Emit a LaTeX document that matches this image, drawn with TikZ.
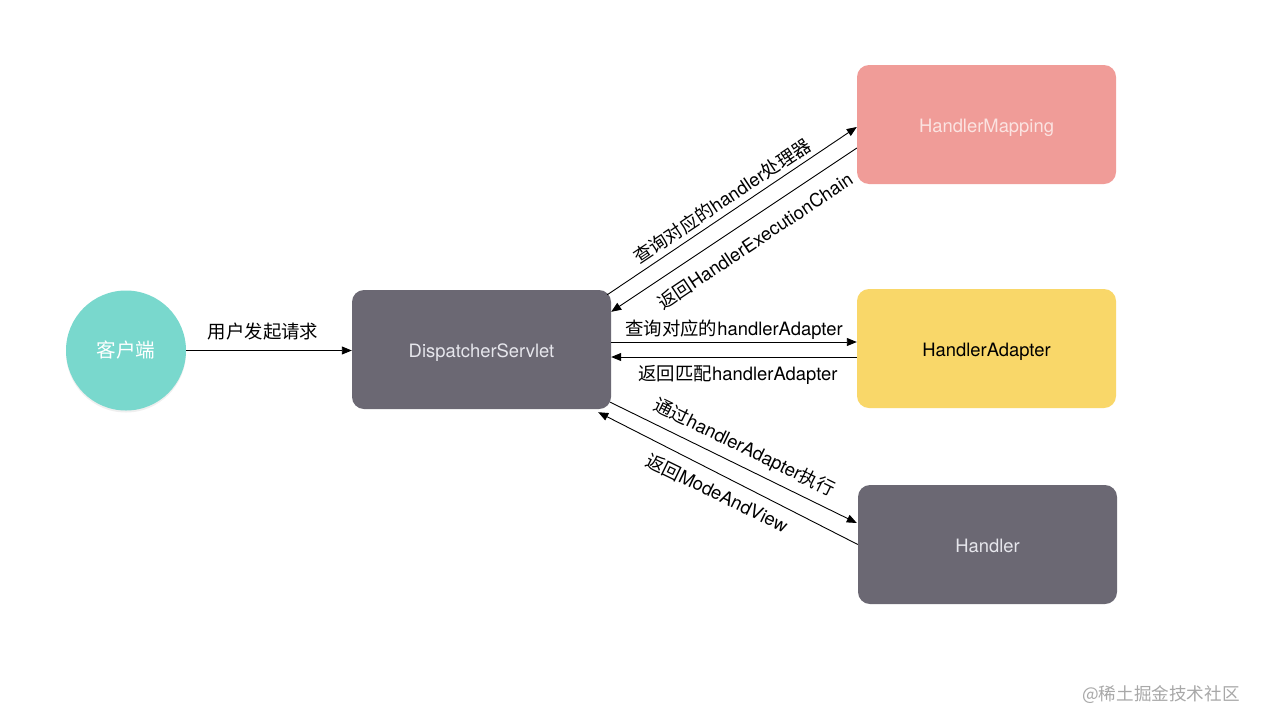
\documentclass[tikz,border=0pt]{standalone}
\usepackage{fontspec}
\setmainfont{TeX Gyre Heros}
\newfontfamily\cjk{Noto Sans CJK SC}
\usetikzlibrary{arrows.meta,calc,shadows}
\definecolor{clientc}{HTML}{79D8CD}
\definecolor{darkc}{HTML}{6B6873}
\definecolor{pinkc}{HTML}{F09C98}
\definecolor{yellowc}{HTML}{F9D769}
\definecolor{dstext}{HTML}{E6E6EC}
\definecolor{hmtext}{HTML}{FBE3E1}
\definecolor{wmtext}{HTML}{A8A8A8}
\begin{document}
\begin{tikzpicture}[x=1pt,y=-1pt,
  font=\fontsize{18.4}{21}\selectfont,
  box/.style={rectangle, rounded corners=12pt, minimum width=259pt, minimum height=119pt, inner sep=0pt, text height=16pt, text depth=0pt},
  conn/.style={-{Triangle[length=10pt,width=8pt]}, line width=0.9pt, black},
  lbl/.style={inner sep=0pt, text=black}]
\useasboundingbox[fill=white] (0,0) rectangle (1263,726);
\node[circle, fill=clientc, minimum size=120pt, inner sep=0pt, text=white,
  font=\fontsize{19.6}{22}\selectfont,
  drop shadow={opacity=0.12, shadow xshift=0pt, shadow yshift=-2pt}] (client) at (126,350.5) {\cjk 客户端};
\node[box, fill=darkc, text=dstext] (ds) at (481.5,349.5) {DispatcherServlet};
\node[box, fill=pinkc, text=hmtext] (hm) at (986.5,124.5) {HandlerMapping};
\node[box, fill=yellowc, text=black] (ha) at (986.5,348.5) {HandlerAdapter};
\node[box, fill=darkc, text=dstext] (h) at (987.5,544.5) {Handler};

\draw[conn] (client.east) -- (client.east -| ds.west);
\node[lbl] (l0) at (263,332) {\cjk 用户发起请求};

\draw[conn] ($(ds.north east)+(-4,5)$) -- ($(hm.west)+(0,2.5)$);
\draw[conn] ($(hm.west)+(0,23.5)$) -- ($(ds.north east)+(0,22)$);
\node[lbl, rotate=33.7] (l1) at (722,201) {{\cjk 查询对应的}handler{\cjk 处理器}};
\node[lbl, rotate=33.7] (l2) at (755,241) {{\cjk 返回}HandlerExecutionChain};

\draw[conn] ($(ds.east)+(0,-7.5)$) -- ($(ha.west)+(0,-6.5)$);
\draw[conn] ($(ha.west)+(0,8.5)$) -- ($(ds.east)+(0,7.5)$);
\node[lbl] (l3) at (734,330) {{\cjk 查询对应的}handlerAdapter};
\node[lbl] (l4) at (738,375) {{\cjk 返回匹配}handlerAdapter};

\draw[conn] ($(ds.south east)+(-1,-7)$) -- ($(h.west)+(-1,-21.5)$);
\draw[conn] ($(h.west)+(0,0)$) -- ($(ds.south east)+(-13,3)$);
\node[lbl, rotate=-26] (l5) at (744,448) {{\cjk 通过}handlerAdapter{\cjk 执行}};
\node[lbl, rotate=-26] (l6) at (717,493) {{\cjk 返回}ModeAndView};

\node[text=wmtext, inner sep=0pt, font=\fontsize{17.6}{20}\selectfont] (wm) at (1161,695) {\cjk @稀土掘金技术社区};
\end{tikzpicture}
\end{document}
